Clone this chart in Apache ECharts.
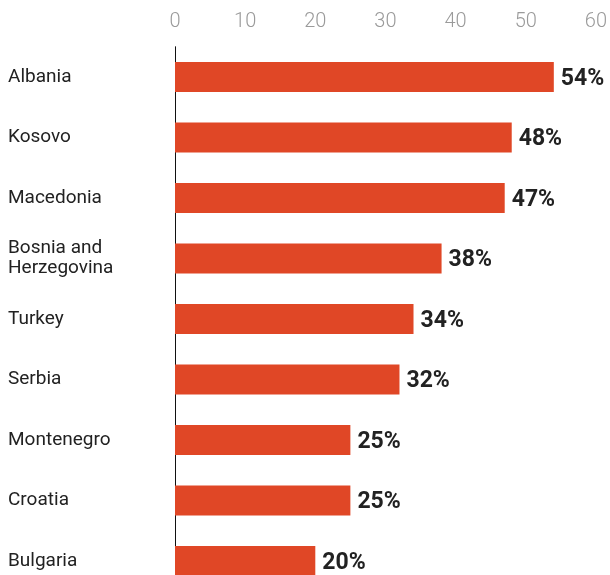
<!DOCTYPE html>
<html>
<head>
<meta charset="utf-8">
<script src="https://cdn.jsdelivr.net/npm/echarts@6/dist/echarts.min.js"></script>
<style>
  html, body { margin: 0; padding: 0; background: #fff; overflow: hidden; }
  /* 最后一根柱子被裁掉一半，容器比窗口高一点 */
  #chart { width: 610px; height: 600px; }
</style>
</head>
<body>
<div id="chart"></div>
<script>
// 国家 & 数值
const countries = ['Albania', 'Kosovo', 'Macedonia', 'Bosnia and\nHerzegovina', 'Turkey', 'Serbia', 'Montenegro', 'Croatia', 'Bulgaria'];
const values = [54, 48, 47, 38, 34, 32, 25, 25, 20];
const axisTicks = [0, 10, 20, 30, 40, 50, 60];

const chart = echarts.init(document.getElementById('chart'));

chart.setOption({
  animation: false,
  grid: {
    left: 175,
    right: 13,
    top: 46.75,
    height: 544.5
  },
  xAxis: {
    type: 'value',
    position: 'top',
    min: axisTicks[0],
    max: axisTicks[axisTicks.length - 1],
    interval: 10,
    axisLine: { show: false },
    axisTick: { show: false },
    splitLine: { show: false },
    axisLabel: {
      color: '#9a9a9a',
      fontSize: 20,
      fontFamily: 'Roboto',
      fontWeight: 300,
      margin: 15
    }
  },
  yAxis: {
    type: 'category',
    inverse: true,
    data: countries,
    axisLine: { show: true, lineStyle: { color: '#111', width: 1 } },
    axisTick: { show: false },
    axisLabel: {
      align: 'left',
      margin: 167,
      color: '#222',
      fontSize: 19,
      fontFamily: 'Roboto',
      lineHeight: 20
    }
  },
  series: [{
    type: 'bar',
    data: values,
    barWidth: 30,
    itemStyle: { color: '#e04726' },
    label: {
      show: true,
      position: 'right',
      distance: 7,
      formatter: '{c}%',
      color: '#222',
      fontSize: 23,
      fontWeight: 'bold',
      fontFamily: 'Roboto',
      offset: [0, 2]
    }
  }]
});
</script>
</body>
</html>
